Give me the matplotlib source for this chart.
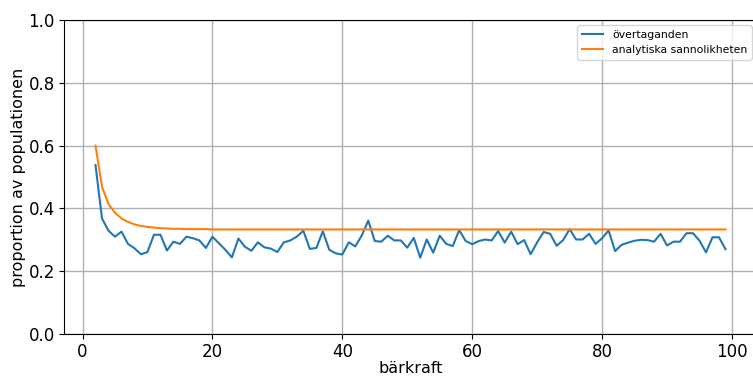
import matplotlib
matplotlib.use("Agg")
import matplotlib.pyplot as plt

# bärkraft 2..99
barkraft = list(range(2, 100))

# simulerade övertaganden
overtaganden = [
    0.538, 0.368, 0.329, 0.310, 0.326, 0.287, 0.273, 0.254, 0.261, 0.316,
    0.316, 0.266, 0.294, 0.287, 0.310, 0.305, 0.298, 0.274, 0.310, 0.289,
    0.268, 0.244, 0.304, 0.278, 0.265, 0.292, 0.276, 0.272, 0.261, 0.292,
    0.298, 0.310, 0.329, 0.271, 0.274, 0.327, 0.268, 0.257, 0.253, 0.292,
    0.279, 0.314, 0.361, 0.296, 0.294, 0.313, 0.298, 0.298, 0.275, 0.306,
    0.243, 0.301, 0.259, 0.313, 0.287, 0.280, 0.331, 0.296, 0.286, 0.296,
    0.301, 0.298, 0.328, 0.291, 0.326, 0.286, 0.299, 0.254, 0.292, 0.325,
    0.319, 0.281, 0.299, 0.334, 0.301, 0.301, 0.319, 0.287, 0.305, 0.330,
    0.264, 0.284, 0.291, 0.297, 0.300, 0.299, 0.294, 0.319, 0.282, 0.294,
    0.294, 0.321, 0.321, 0.297, 0.260, 0.308, 0.308, 0.270,
]

# analytiska sannolikheten
analytisk = [
    0.600, 0.469, 0.414, 0.386, 0.368, 0.357, 0.349, 0.344, 0.341, 0.339,
    0.337, 0.336, 0.335, 0.335, 0.334, 0.334, 0.334, 0.334, 0.333, 0.333,
    0.333, 0.333, 0.333, 0.333, 0.333, 0.333, 0.333, 0.333, 0.333, 0.333,
    0.333, 0.333, 0.333, 0.333, 0.333, 0.333, 0.333, 0.333, 0.333, 0.333,
    0.333, 0.333, 0.333, 0.333, 0.333, 0.333, 0.333, 0.333, 0.333, 0.333,
    0.333, 0.333, 0.333, 0.333, 0.333, 0.333, 0.333, 0.333, 0.333, 0.333,
    0.333, 0.333, 0.333, 0.333, 0.333, 0.333, 0.333, 0.333, 0.333, 0.333,
    0.333, 0.333, 0.333, 0.333, 0.333, 0.333, 0.333, 0.333, 0.333, 0.333,
    0.333, 0.333, 0.333, 0.333, 0.333, 0.333, 0.333, 0.333, 0.333, 0.333,
    0.333, 0.333, 0.333, 0.333, 0.333, 0.333, 0.333, 0.333,
]

W, H = 753, 376
fig = plt.figure(figsize=(W / 100, H / 100), dpi=100)
# axes runs slightly past the right edge, as in the reference
ax = fig.add_axes([64 / W, (H - 334) / H, (757 - 64) / W, 314 / H])

ax.plot(barkraft, overtaganden, color="#1f77b4", linewidth=1.5, label="övertaganden")
ax.plot(barkraft, analytisk, color="#ff7f0e", linewidth=1.5, label="analytiska sannolikheten")

ax.set_ylim(0, 1.0)
ax.set_xticks([0, 20, 40, 60, 80, 100])
ax.set_yticks([0.0, 0.2, 0.4, 0.6, 0.8, 1.0])
ax.grid(True, color="#b0b0b0", linewidth=1.0)
ax.tick_params(labelsize=12, pad=3)
ax.set_xlabel("bärkraft", fontsize=11.5, labelpad=0)
ax.set_ylabel("proportion av populationen", fontsize=11.5, labelpad=2)
ax.legend(loc="upper right", fontsize=7.8)

fig.savefig("out.png", dpi=100)
